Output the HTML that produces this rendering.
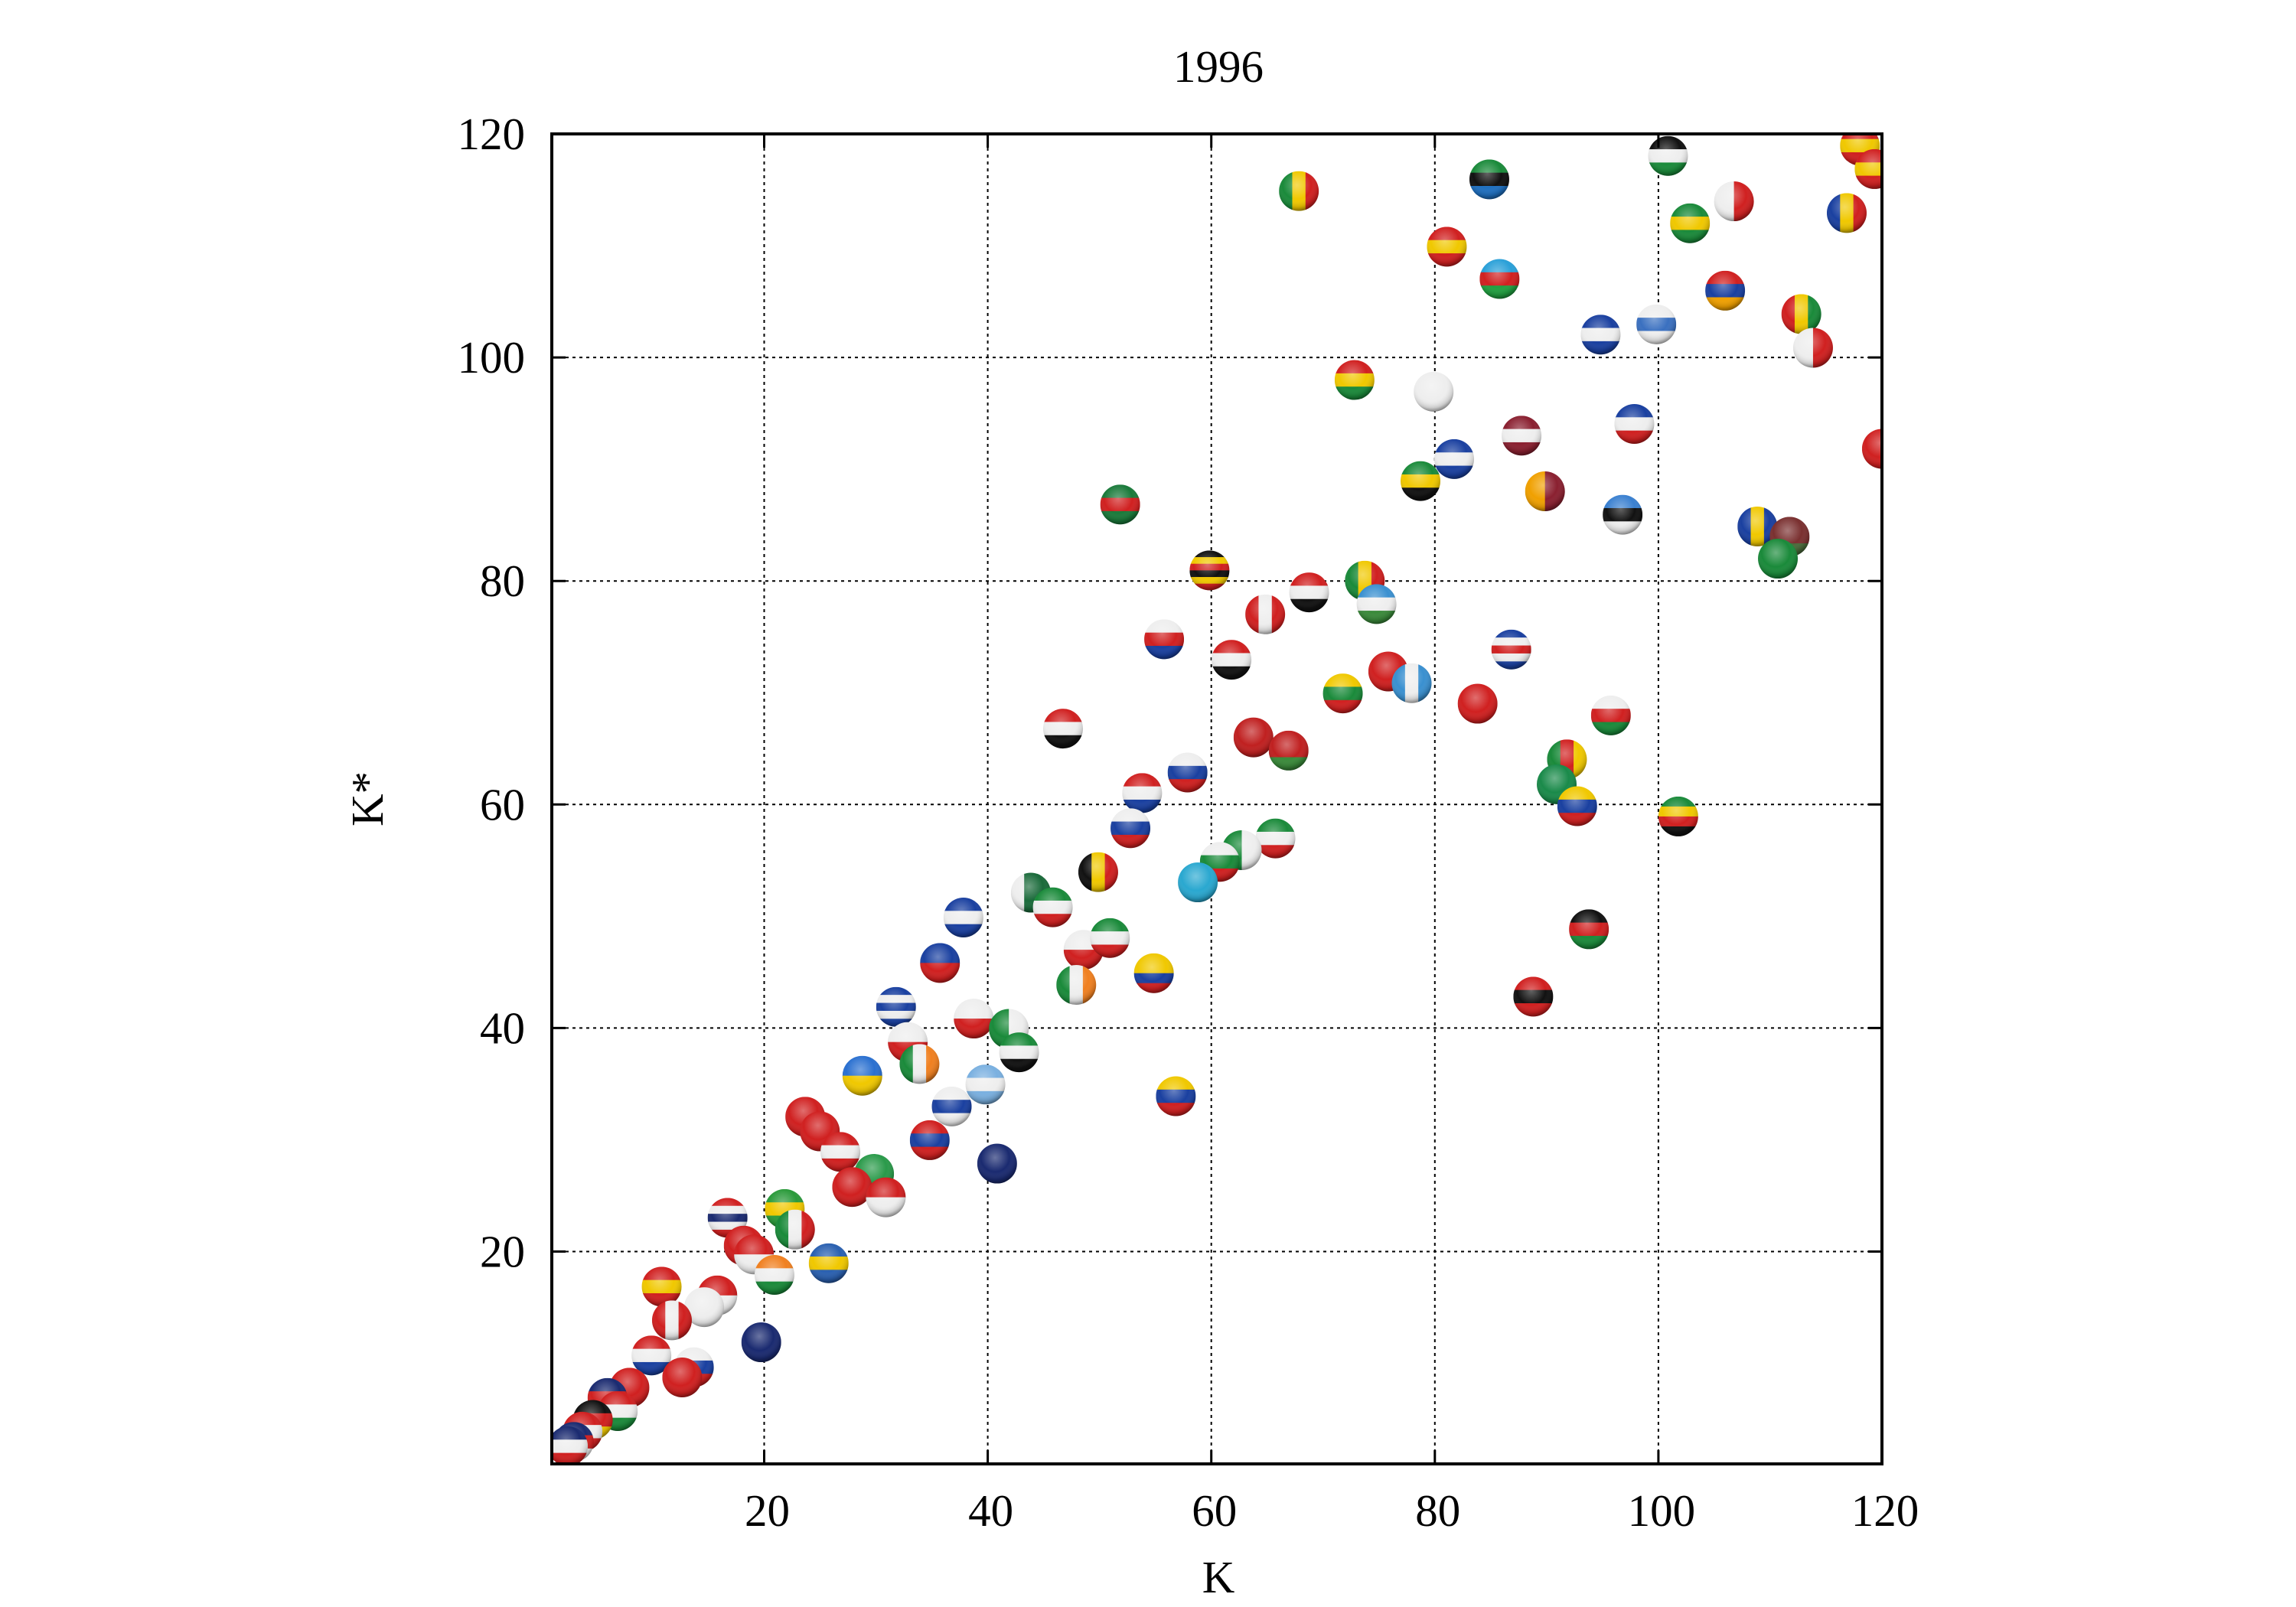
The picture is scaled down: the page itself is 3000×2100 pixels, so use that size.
<!DOCTYPE html>
<html><head><meta charset="utf-8"><style>
html,body{margin:0;padding:0;background:#fff}
svg{display:block}
text{font-family:"Liberation Serif",serif;fill:#000}
</style></head><body>
<svg id="s" width="3000" height="2100" viewBox="0 0 3000 2100" xmlns="http://www.w3.org/2000/svg">
<defs>
<radialGradient id="gl" cx="0.45" cy="0.35" r="0.65">
<stop offset="0" stop-color="#fff" stop-opacity="0.35"/>
<stop offset="0.55" stop-color="#fff" stop-opacity="0"/>
<stop offset="0.85" stop-color="#000" stop-opacity="0.15"/>
<stop offset="1" stop-color="#000" stop-opacity="0.45"/>
</radialGradient>
<clipPath id="pc"><rect x="721" y="175" width="1738" height="1738"/></clipPath>
</defs>
<g id="grid" stroke="#000" stroke-width="2" stroke-dasharray="4,5"></g>
<g id="pts" clip-path="url(#pc)"></g>
<rect x="721" y="175" width="1738" height="1738" fill="none" stroke="#000" stroke-width="4"/>
<g id="ticks" stroke="#000" stroke-width="3"></g>
<g id="labels" font-size="59"></g>
<text x="1592" y="107" font-size="59" text-anchor="middle">1996</text>
<text x="1592" y="2081" font-size="59" text-anchor="middle">K</text>
<text transform="translate(500,1044) rotate(-90)" font-size="59" text-anchor="middle">K*</text>
</svg>
<script>
var NS="http://www.w3.org/2000/svg";
function el(t,a,p){var e=document.createElementNS(NS,t);for(var k in a)e.setAttribute(k,a[k]);p.appendChild(e);return e;}
var L=721,T=175,W=1738,B=1913;
function px(v){return L+(v-1)/119*W;}
function py(v){return B-(v-1)/119*W;}
var g=document.getElementById('grid'),tk=document.getElementById('ticks'),lb=document.getElementById('labels');
for(var v=20;v<=120;v+=20){
 if(v<120){el('line',{x1:px(v),y1:T,x2:px(v),y2:B},g);el('line',{x1:L,y1:py(v),x2:L+W,y2:py(v)},g);}
 el('line',{x1:px(v),y1:B,x2:px(v),y2:B-18},tk);el('line',{x1:px(v),y1:T,x2:px(v),y2:T+18},tk);
 el('line',{x1:L,y1:py(v),x2:L+18,y2:py(v)},tk);el('line',{x1:L+W,y1:py(v),x2:L+W-18,y2:py(v)},tk);
 var t=el('text',{x:px(v)+4,y:1994,'text-anchor':'middle'},lb);t.textContent=v;
 t=el('text',{x:686,y:py(v)+20,'text-anchor':'end'},lb);t.textContent=v;
}
var R='#d02020',Wh='#eeeeee',G='#1a8a3a',Y='#f0c800',Bk='#111',Bl='#1a40a0',N='#1a2a70';
var P=[
[887,131,'v',[G,Y,R]],[1017,123,'h',[G,Bk,'#1e6fc0']],[988,169,'h',[R,Y,R]],[1024,191,'h',['#2aa0d8',R,'#20a040']],
[1139,107,'h',[Bk,Wh,G]],[1184,138,'v',[Wh,R]],[1154,153,'h',[G,Y,G]],[1270,100,'h',[R,Y,R]],[1280,116,'h',[R,Y,R]],
[1261,146,'v',[Bl,Y,R]],[1178,199,'h',[R,Bl,'#f0a000']],[1093,229,'h',[Bl,Wh,Bl]],[1131,222,'h',[Wh,'#3a70c0',Wh]],
[1230,215,'v',[R,Y,G]],[1238,238,'v',[Wh,R]],[925,260,'h',[R,Y,G]],[979,268,'h',[Wh,Wh,Wh]],[1039,298,'h',['#8a2030',Wh,'#8a2030']],
[1116,290,'h',[Bl,Wh,R]],[993,314,'h',[Bl,Wh,Bl]],[970,329,'h',[G,Y,Bk]],[1055,336,'v',['#f0a000','#8a2030']],
[1108,352,'h',['#3a80d0',Bk,Wh]],[1285,307,'h',[R]],[1200,360,'v',[Bl,Y,Bl]],[1222,367,'h',['#7a3030','#7a3030','#4a6a3a']],
[1214,382,'h',[G]],[765,345,'h',['#1a7a3a',R,'#1a7a3a']],[826,390,'h',[Bk,Y,R,Bk,Y,R]],[864,420,'v',[R,Wh,R]],
[894,405,'h',[R,Wh,Bk]],[932,397,'v',[G,Y,R]],[940,413,'h',['#3a90d0',Wh,'#3a8a3a']],[795,437,'h',[Wh,R,Bl]],
[841,451,'h',[R,Wh,Bk]],[1032,444,'h',[Bl,Wh,R,Wh,Bl]],[917,474,'h',[Y,G,R]],[948,459,'h',[R]],[964,467,'v',['#3a90d0',Wh,'#3a90d0']],
[1009,481,'h',[R]],[1100,489,'h',[Wh,R,G]],[726,498,'h',[R,Wh,Bk]],[856,504,'h',['#c02020']],[880,513,'h',['#c02020','#c02020','#3a8a3a']],
[780,542,'h',[R,Wh,Bl]],[811,528,'h',[Wh,Bl,R]],[772,566,'h',[Wh,Bl,R]],[1070,519,'v',[G,R,Y]],[1063,536,'h',['#1a8a4a']],
[1077,551,'h',[Y,Bl,R]],[1146,558,'h',[G,Y,R,Bk]],[871,573,'h',[G,Wh,R]],[848,581,'v',[G,Wh]],[833,589,'h',[Wh,G,R]],
[818,603,'h',['#2aa8d0']],[750,596,'v',[Bk,Y,R]],[704,610,'v',[Wh,'#1a6a3a','#1a6a3a']],[719,620,'h',[G,Wh,R]],
[658,627,'h',[Bl,Wh,Bl]],[642,658,'h',[Bl,R]],[740,649,'h',[Wh,R]],[758,641,'h',[G,Wh,R]],[735,673,'v',[G,Wh,'#f08020']],
[788,665,'h',[Y,Y,Bl,R]],[1085,635,'h',[Bk,R,G]],[1047,681,'h',[R,Bk,R]],[612,688,'h',[Bl,Wh,Bl,Wh,Bl]],[665,696,'h',[Wh,R]],
[689,703,'v',[G,Wh]],[696,719,'h',[G,Wh,Bk]],[620,712,'h',[Wh,R]],[628,727,'v',[G,Wh,'#f08020']],[589,735,'h',['#2a70d0',Y]],
[673,741,'h',['#7ab0e0',Wh,'#7ab0e0']],[650,756,'h',[Wh,Bl,Wh]],[803,749,'h',[Y,Bl,R]],[550,763,'h',[R]],[560,773,'h',[R]],
[574,787,'h',[R,Wh,R]],[635,779,'h',[R,Bl,R]],[681,795,'h',[N]],[597,802,'h',['#2a9a4a']],[582,811,'h',[R]],
[605,818,'h',[R,Wh]],[536,826,'h',['#2a9a3a',Y,'#2a9a3a']],[543,840,'v',[G,Wh,R]],[497,832,'h',[R,Wh,N,Wh,R]],
[508,851,'h',[R]],[515,857,'h',[R,Wh]],[529,871,'h',['#f08020',Wh,G]],[566,863,'h',['#2a60b0',Y,'#2a60b0']],
[452,879,'h',[R,Y,R]],[490,885,'h',[R,Wh]],[481,893,'h',[Wh]],[459,902,'v',[R,Wh,R]],[520,917,'h',[N]],
[445,926,'h',[R,Wh,Bl]],[474,934,'h',[Wh,Bl,R]],[466,941,'h',[R]],[430,948,'h',[R]],[415,955,'h',[N,R,N]],
[422,964,'h',[R,Wh,G]],[405,970,'h',[Bk,R,Y]],[398,978,'h',[R,Wh,R]],[392,985,'h',[N,R,Wh]],[388,988,'h',[N,Wh,R]]
];
var pg=document.getElementById('pts'),r=26,i=0;
P.forEach(function(p){
 var cx=L+(p[0]-377)*1.914,cy=T+(p[1]-92)*1.914;
 var id='c'+(i++);var cp=el('clipPath',{id:id},pg);el('circle',{cx:cx,cy:cy,r:r},cp);
 var gg=el('g',{'clip-path':'url(#'+id+')'},pg);var c=p[3],n=c.length;
 for(var k=0;k<n;k++){
  if(p[2]=='h')el('rect',{x:cx-r,y:cy-r+2*r*k/n,width:2*r,height:2*r/n+1,fill:c[k]},gg);
  else el('rect',{x:cx-r+2*r*k/n,y:cy-r,width:2*r/n+1,height:2*r,fill:c[k]},gg);
 }
 el('circle',{cx:cx,cy:cy,r:r,fill:'url(#gl)'},pg);
});
</script>
</body></html>
